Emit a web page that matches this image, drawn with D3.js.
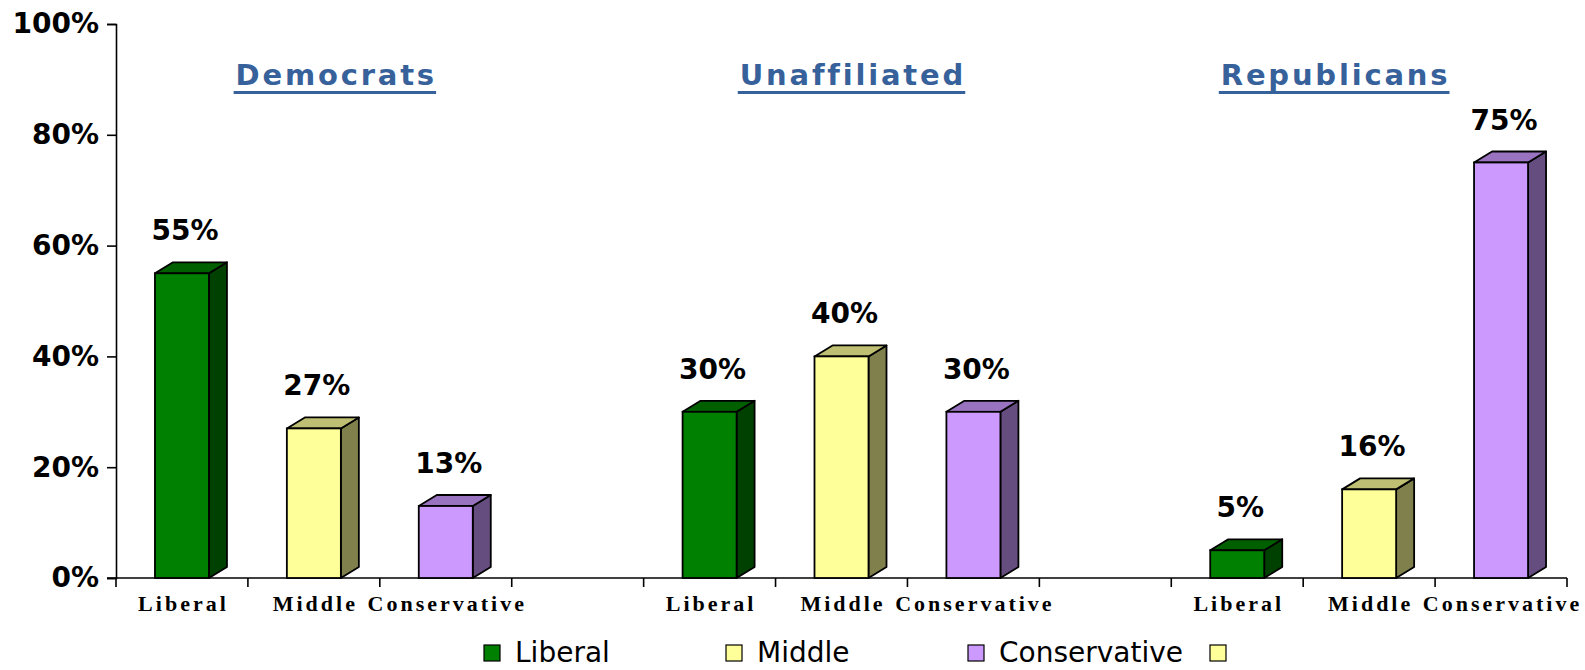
<!DOCTYPE html>
<html>
<head>
<meta charset="utf-8">
<script src="https://cdn.jsdelivr.net/npm/d3@7"></script>
<style>
  body { margin: 0; background: #fff; }
  svg { display: block; }
</style>
</head>
<body>
<svg id="chart" width="1585" height="670"></svg>
<script>
// Data
const groups = ["Democrats", "Unaffiliated", "Republicans"];
const series = ["Liberal", "Middle", "Conservative"];
const democrats = [0.55, 0.27, 0.13];
const unaffiliated = [0.30, 0.40, 0.30];
const republicans = [0.05, 0.16, 0.75];
const yTicks = [0, 0.2, 0.4, 0.6, 0.8, 1.0];
const legendLabels = ["Liberal", "Middle", "Conservative", ""];

const groupValues = [democrats, unaffiliated, republicans];

// Colours: front, top, side
const palette = {
    Liberal:      { front: "#008000", top: "#006000", side: "#004000" },
    Middle:       { front: "#ffff99", top: "#bfbf73", side: "#80804d" },
    Conservative: { front: "#cc99ff", top: "#9973bf", side: "#664d80" }
};
const legendColors = ["#008000", "#ffff99", "#cc99ff", "#ffff99"];

const svg = d3.select("#chart");

// Slot keys: 3 bars per group, one empty slot between groups
const slots = [];
groups.forEach((g, gi) => {
    series.forEach(s => slots.push(g + "|" + s));
    if (gi < groups.length - 1) slots.push("gap" + gi);
});

const x = d3.scaleBand()
    .domain(slots)
    .range([116, 1567])
    .padding(0);

const y = d3.scaleLinear()
    .domain([0, 1])
    .range([578, 24]);

// Y axis
const yAxis = svg.append("g")
    .attr("transform", "translate(116,0)")
    .call(d3.axisLeft(y).tickValues(yTicks).tickFormat(d3.format(".0%")).tickSize(9).tickPadding(8));
yAxis.selectAll("path, line").attr("stroke", "#000").attr("stroke-width", 1.6);
yAxis.selectAll("text")
    .style("font-family", "'DejaVu Sans', Verdana, sans-serif")
    .style("font-weight", "bold")
    .style("font-size", "28px")
    .attr("fill", "#000");

// X axis line and boundary ticks
svg.append("line")
    .attr("x1", 107).attr("x2", x.range()[1])
    .attr("y1", y(0)).attr("y2", y(0))
    .attr("stroke", "#000").attr("stroke-width", 1.6);

const boundaries = slots.map(k => x(k)).concat([x.range()[1]]);
svg.append("g").selectAll("line")
    .data(boundaries)
    .enter().append("line")
    .attr("x1", d => d).attr("x2", d => d)
    .attr("y1", y(0)).attr("y2", y(0) + 9)
    .attr("stroke", "#000").attr("stroke-width", 1.6);

// Category labels
const catSpacing = 3;
svg.append("g").selectAll("text")
    .data(slots.filter(k => k.includes("|")))
    .enter().append("text")
    .attr("x", k => x(k) + x.bandwidth() / 2 + catSpacing / 2)
    .attr("y", 611)
    .attr("text-anchor", "middle")
    .style("font-family", "'Liberation Serif', 'Times New Roman', serif")
    .style("font-weight", "bold")
    .style("font-size", "22px")
    .style("letter-spacing", catSpacing + "px")
    .text(k => k.split("|")[1]);

// 3D bars
const frontW = 54, dx = 18, dy = 11;
const bars = [];
groups.forEach((g, gi) => {
    series.forEach((s, si) => {
        bars.push({ key: g + "|" + s, series: s, value: groupValues[gi][si] });
    });
});

const barG = svg.append("g").selectAll("g")
    .data(bars)
    .enter().append("g");

barG.each(function (d) {
    const g = d3.select(this);
    const x0 = x(d.key) + (x.bandwidth() - frontW) / 2;
    const x1 = x0 + frontW;
    const yt = y(d.value);
    const yb = y(0);
    const c = palette[d.series];

    g.append("polygon")
        .attr("points", [[x1, yt], [x1 + dx, yt - dy], [x1 + dx, yb - dy], [x1, yb]].join(" "))
        .attr("fill", c.side).attr("stroke", "#000").attr("stroke-width", 1.8)
        .attr("stroke-linejoin", "round");
    g.append("polygon")
        .attr("points", [[x0, yt], [x0 + dx, yt - dy], [x1 + dx, yt - dy], [x1, yt]].join(" "))
        .attr("fill", c.top).attr("stroke", "#000").attr("stroke-width", 1.8)
        .attr("stroke-linejoin", "round");
    g.append("rect")
        .attr("x", x0).attr("y", yt)
        .attr("width", frontW).attr("height", yb - yt)
        .attr("fill", c.front).attr("stroke", "#000").attr("stroke-width", 1.8);

    g.append("text")
        .attr("x", x0 + frontW / 2 + 3)
        .attr("y", yt - 33)
        .attr("text-anchor", "middle")
        .style("font-family", "'DejaVu Sans', Verdana, sans-serif")
        .style("font-weight", "bold")
        .style("font-size", "28px")
        .text(d3.format(".0%")(d.value));
});

// Group titles (underlined)
const titleShift = [21, 10, -35];
const titleSpacing = 2.8;
groups.forEach((g, gi) => {
    const cx = x(g + "|" + series[1]) + x.bandwidth() / 2 + titleShift[gi];
    const t = svg.append("text")
        .attr("x", cx + titleSpacing / 2)
        .attr("y", 85)
        .attr("text-anchor", "middle")
        .attr("fill", "#37619a")
        .style("font-family", "'DejaVu Sans', Verdana, sans-serif")
        .style("font-weight", "bold")
        .style("font-size", "29px")
        .style("letter-spacing", titleSpacing + "px")
        .text(g);
    const w = t.node().getComputedTextLength() - titleSpacing;
    svg.append("rect")
        .attr("x", cx - w / 2 - 2)
        .attr("y", 91)
        .attr("width", w + 4)
        .attr("height", 3)
        .attr("fill", "#37619a");
});

// Legend
const legend = svg.append("g").selectAll("g")
    .data(legendLabels)
    .enter().append("g")
    .attr("transform", (d, i) => `translate(${484 + i * 242}, 645)`);

legend.append("rect")
    .attr("width", 16).attr("height", 16)
    .attr("fill", (d, i) => legendColors[i])
    .attr("stroke", "#000").attr("stroke-width", 1.2);

legend.append("text")
    .attr("x", 31)
    .attr("y", 17)
    .style("font-family", "'DejaVu Sans', Tahoma, sans-serif")
    .style("font-size", "28px")
    .text(d => d);
</script>
</body>
</html>
